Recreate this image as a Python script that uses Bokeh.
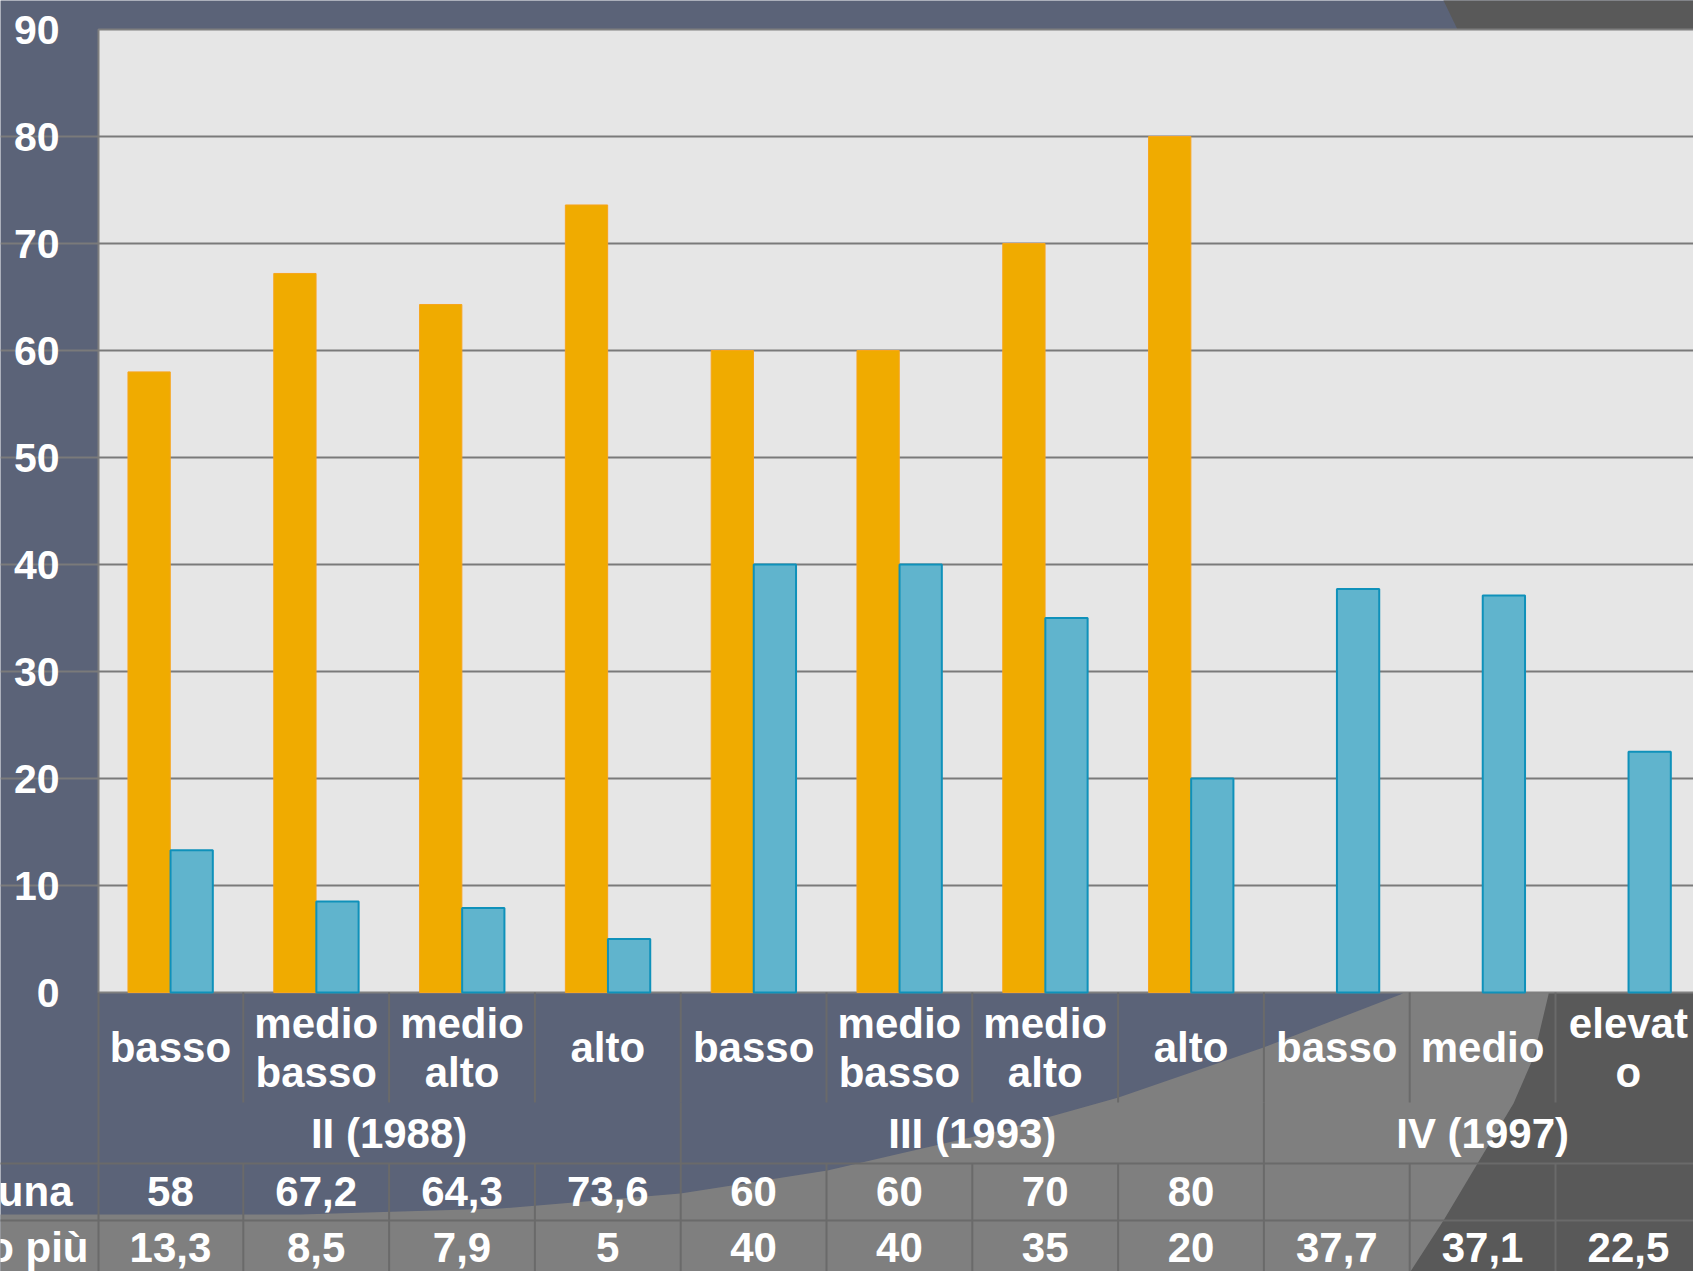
from bokeh.plotting import figure
from bokeh.models import Range1d, FixedTicker
from bokeh.core.properties import value
from bokeh.embed import file_html
from bokeh.resources import INLINE

# ---------------- data ----------------
categories = ["basso", "medio\nbasso", "medio\nalto", "alto",
              "basso", "medio\nbasso", "medio\nalto", "alto",
              "basso", "medio", "elevat\no"]
groups = ["II (1988)", "III (1993)", "IV (1997)"]
group_sizes = [4, 4, 3]
row_labels = ["una", "o più"]
series_una = [58, 67.2, 64.3, 73.6, 60, 60, 70, 80, None, None, None]
series_piu = [13.3, 8.5, 7.9, 5, 40, 40, 35, 20, 37.7, 37.1, 22.5]
y_ticks = [0, 10, 20, 30, 40, 50, 60, 70, 80, 90]
grid_ticks = [10, 20, 30, 40, 50, 60, 70, 80]

# ---------------- style ----------------
SLATE = "#5B6378"
MID = "#7F7F7F"
DARK = "#595959"
PLOT_BG = "#E6E6E6"
GRID = "#7A7A7A"
TLINE = "#6A6A6A"
ORANGE = "#F0AB00"
ORANGE_EDGE = "#F7A51C"
BLUE = "#60B4CD"
BLUE_EDGE = "#0F91BA"
FONT = "Liberation Sans"
FS = "42px"
FS_TICK = "41px"

W_PX, H_PX = 1693, 1271
# page-pixel geometry helpers
PX_LEFT = 97.0
PX_CAT = 145.8
PX_ZERO = 992.0
PX_UNIT = 10.7


def dx(X):
    return (X - PX_LEFT) / PX_CAT


def dy(Y):
    return (PX_ZERO - Y) / PX_UNIT


n = len(categories)
p = figure(width=W_PX, height=H_PX, output_backend="svg", toolbar_location=None,
           x_range=Range1d(dx(0), dx(W_PX)),
           y_range=Range1d(dy(H_PX), dy(0)),
           x_axis_location=None,
           min_border_left=0, min_border_right=0, min_border_top=0, min_border_bottom=0,
           background_fill_color=SLATE, border_fill_color=SLATE,
           outline_line_color=None)

# ---- background shapes (theme decoration) ----
mid_pts = [(-20, 1214), (300, 1214), (500, 1208), (680, 1193), (827, 1170), (900, 1153),
           (1000, 1130), (1118, 1097), (1263, 1047), (1400, 994), (1500, 940),
           (1750, 900), (1750, 1290), (-20, 1290)]
dark_pts = [(1398, 1290), (1410, 1271), (1443, 1220), (1477, 1163), (1513, 1103),
            (1533, 1057), (1548, 994), (1580, 700), (1540, 300), (1457, 29), (1443, 0),
            (1441, -10), (1750, -10), (1750, 1290)]
for pts, col in ((mid_pts, MID), (dark_pts, DARK)):
    r = p.patch([dx(a) for a, b in pts], [dy(b) for a, b in pts],
                fill_color=col, line_color=None)
    r.level = "image"

# plot area
r = p.quad(left=[dx(98)], right=[n + 1], bottom=[0], top=[90],
           fill_color=PLOT_BG, line_color="#7F7F7F", line_width=2)
r.level = "image"

# grid & axis (axis pinned at the plot-area edge)
p.xgrid.visible = False
p.ygrid.ticker = FixedTicker(ticks=grid_ticks)
p.ygrid.grid_line_color = GRID
p.ygrid.grid_line_width = 2
p.ygrid.bounds = (10, 80)
yax = p.yaxis[0]
yax.fixed_location = 0
yax.ticker = FixedTicker(ticks=y_ticks)
yax.axis_line_color = None
yax.major_tick_line_color = None
yax.minor_tick_line_color = None
yax.major_tick_out = 0
yax.major_tick_in = 0
yax.major_label_standoff = 38
yax.major_label_text_color = "white"
yax.major_label_text_font = FONT
yax.major_label_text_font_style = "bold"
yax.major_label_text_font_size = FS_TICK

# bars
W = 0.29
OFF = 0.146
xs1 = [i + 0.5 - OFF for i, v in enumerate(series_una) if v is not None]
ts1 = [v for v in series_una if v is not None]
p.vbar(x=xs1, top=ts1, bottom=0, width=W, fill_color=ORANGE, line_color=ORANGE_EDGE, line_width=1)
xs2 = [i + 0.5 + OFF for i, v in enumerate(series_piu) if v is not None]
ts2 = [v for v in series_piu if v is not None]
p.vbar(x=xs2, top=ts2, bottom=0, width=W, fill_color=BLUE, line_color=BLUE_EDGE, line_width=2)

# ---- data table ----
Y_CAT_TOP, Y_CAT_BOT = 992, 1102
Y_GRP_BOT = 1163
Y_ROW1_BOT = 1220
Y_END = 1290
seg = dict(x0=[], y0=[], x1=[], y1=[])


def add_seg(x0, y0, x1, y1):
    seg["x0"].append(x0); seg["y0"].append(y0); seg["x1"].append(x1); seg["y1"].append(y1)


add_seg(dx(98), dy(Y_CAT_TOP), dx(98), dy(Y_END))
for k in range(1, n + 1):
    add_seg(k, dy(Y_CAT_TOP), k, dy(Y_CAT_BOT))
    add_seg(k, dy(Y_GRP_BOT), k, dy(Y_END))
acc = 0
for g in group_sizes[:-1]:
    acc += g
    add_seg(acc, dy(Y_CAT_BOT), acc, dy(Y_GRP_BOT))
for yy in (Y_GRP_BOT, Y_ROW1_BOT):
    add_seg(dx(-20), dy(yy), n + 1, dy(yy))
p.segment(x0=seg["x0"], y0=seg["y0"], x1=seg["x1"], y1=seg["y1"], line_color=TLINE, line_width=2)

txt = dict(text_font=value(FONT), text_font_style="bold", text_font_size=FS,
           text_color="white", text_align="center", text_baseline="middle")

# category labels
cx, cy, ct = [], [], []
for i, c in enumerate(categories):
    parts = c.split("\n")
    if len(parts) == 1:
        cx.append(i + 0.5); cy.append(dy(1047)); ct.append(parts[0])
    else:
        cx += [i + 0.5, i + 0.5]; cy += [dy(1023), dy(1072)]; ct += parts
p.text(x=cx, y=cy, text=ct, **txt)

# group labels
gx, start = [], 0
for g in group_sizes:
    gx.append(start + g / 2.0)
    start += g
p.text(x=gx, y=[dy(1133)] * len(groups), text=groups, **txt)


def fmt(v):
    return ("%g" % v).replace(".", ",")


for series, yrow in ((series_una, 1191), (series_piu, 1247)):
    vx = [i + 0.5 for i, v in enumerate(series) if v is not None]
    vt = [fmt(v) for v in series if v is not None]
    p.text(x=vx, y=[dy(yrow)] * len(vx), text=vt, **txt)

# row labels (partly outside the visible slide area, right-aligned)
lab_txt = dict(txt)
lab_txt["text_align"] = "right"
p.text(x=[dx(72), dx(88)], y=[dy(1191), dy(1247)], text=row_labels, **lab_txt)

open("out.html", "w").write(file_html(p, INLINE))
